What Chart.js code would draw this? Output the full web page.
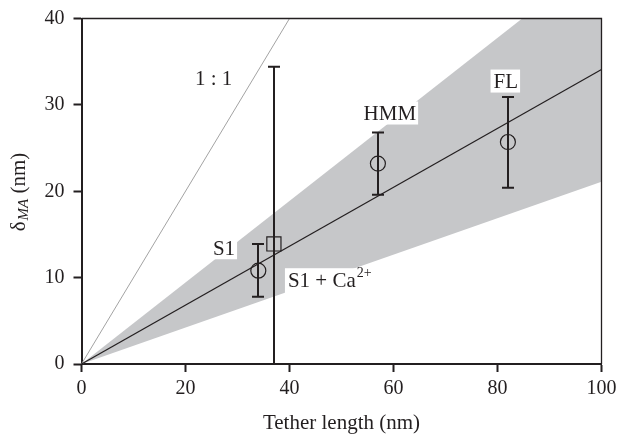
<!DOCTYPE html>
<html>
<head>
<meta charset="utf-8">
<script src="https://cdn.jsdelivr.net/npm/chart.js@4"></script>
<style>
  html, body { margin: 0; padding: 0; background: #fff; overflow: hidden; }
  #wrap { width: 617px; height: 436px; position: relative; }
  #plot { display: block; }
</style>
</head>
<body>
<div id="wrap"><canvas id="plot" width="617" height="436"></canvas></div>
<script>
// DATA: points mesures (longueur d'attache vs delta MA)
var noms = ['S1', 'S1 + Ca2+', 'HMM', 'FL'];
var longueur = [34, 37, 57, 82];
var delta = [10.8, 13.9, 23.2, 25.7];
var erreurBas = [7.8, 0, 19.6, 20.4];
var erreurHaut = [13.9, 34.4, 26.8, 30.9];
var formes = ['circle', 'rect', 'circle', 'circle'];

// droites : bande grise, ajustement, 1:1
var bandeX = [0, 100];
var bandeHaut = [0, 47.2];
var bandeBas = [0, 21.1];
var ajustX = [0, 100];
var ajustY = [0, 34.1];
var unX = [0, 40];
var unY = [0, 40];

var ticksX = [0, 20, 40, 60, 80, 100];
var ticksY = [0, 10, 20, 30, 40];

var encre = '#231f20';
var serif = '"Liberation Serif", "DejaVu Serif", serif';

function pts(xs, ys) {
  return xs.map(function (v, i) { return { x: v, y: ys[i] }; });
}

// pas de marge auto autour des axes (sinon chartArea rétrécit)
function sansMarge(s) {
  s.paddingLeft = 0; s.paddingRight = 0; s.paddingTop = 0; s.paddingBottom = 0;
}

// etiquettes avec fond blanc + barres d'erreur + cadre
var annotations = {
  id: 'annotations',
  afterDatasetsDraw: function (chart) {
    var ctx = chart.ctx;
    var x = chart.scales.x, y = chart.scales.y, a = chart.chartArea;
    ctx.save();
    ctx.fillStyle = encre;
    ctx.textBaseline = 'middle';

    function etiquette(txt, dx, dy, align, sup) {
      ctx.font = '21px ' + serif;
      var w = ctx.measureText(txt).width;
      var ws = 0;
      if (sup) { ctx.font = '14px ' + serif; ws = ctx.measureText(sup).width + 1; ctx.font = '21px ' + serif; }
      var px = x.getPixelForValue(dx), py = y.getPixelForValue(dy);
      var left = align === 'left' ? px : px - (w + ws) / 2;
      ctx.fillStyle = '#fff';
      ctx.fillRect(left - 3, py - 12, w + ws + 5, sup ? 26 : 23);
      ctx.fillStyle = encre;
      ctx.textAlign = 'left';
      ctx.fillText(txt, left, py + 1);
      if (sup) {
        ctx.font = '14px ' + serif;
        ctx.fillText(sup, left + w + 1, py - 7);
      }
    }

    ctx.font = '21px ' + serif;
    ctx.textAlign = 'center';
    ctx.fillText('1 : 1', x.getPixelForValue(25.4), y.getPixelForValue(32.9));

    etiquette('S1', 27.4, 13.4, 'center');
    etiquette('S1 + Ca', 39.7, 9.7, 'left', '2+');
    etiquette('HMM', 59.3, 29.0, 'center');
    etiquette('FL', 81.6, 32.7, 'center');

    // barres d'erreur
    ctx.strokeStyle = encre;
    ctx.lineWidth = 2;
    ctx.beginPath();
    for (var i = 0; i < longueur.length; i++) {
      var px = Math.round(x.getPixelForValue(longueur[i]));
      var y1 = y.getPixelForValue(erreurHaut[i]);
      var y0 = y.getPixelForValue(erreurBas[i]);
      ctx.moveTo(px, y0); ctx.lineTo(px, y1);
      ctx.moveTo(px - 6, y1); ctx.lineTo(px + 6, y1);
      if (erreurBas[i] > 0) { ctx.moveTo(px - 6, y0); ctx.lineTo(px + 6, y0); }
    }
    ctx.stroke();

    // cadre haut et droite
    ctx.lineWidth = 1.3;
    ctx.beginPath();
    ctx.moveTo(a.left, a.top); ctx.lineTo(a.right, a.top); ctx.lineTo(a.right, a.bottom);
    ctx.stroke();

    // titres des axes
    ctx.font = '21px ' + serif;
    ctx.textAlign = 'center';
    ctx.textBaseline = 'middle';
    ctx.fillText('Tether length (nm)', (a.left + a.right) / 2, 423);

    ctx.translate(18, 192);
    ctx.rotate(-Math.PI / 2);
    var t1 = 'δ', t2 = 'MA', t3 = ' (nm)';
    ctx.font = '21px ' + serif; var w1 = ctx.measureText(t1).width; var w3 = ctx.measureText(t3).width;
    ctx.font = 'italic 15px ' + serif; var w2 = ctx.measureText(t2).width;
    var start = -(w1 + w2 + w3 + 1) / 2;
    ctx.textAlign = 'left';
    ctx.textBaseline = 'alphabetic';
    ctx.font = '21px ' + serif;
    ctx.fillText(t1, start, 7);
    ctx.font = 'italic 15px ' + serif;
    ctx.fillText(t2, start + w1 + 1, 10);
    ctx.font = '21px ' + serif;
    ctx.fillText(t3, start + w1 + w2 + 1, 7);
    ctx.restore();
  }
};

var ctx = document.getElementById('plot').getContext('2d');
var graphe = new Chart(ctx, {
  type: 'line',
  data: {
    datasets: [{
      label: 'bande haut',
      data: pts(bandeX, bandeHaut),
      borderWidth: 0,
      pointRadius: 0,
      backgroundColor: '#c6c7c9',
      fill: '+1',
      order: 5
    }, {
      label: 'bande bas',
      data: pts(bandeX, bandeBas),
      borderWidth: 0,
      pointRadius: 0,
      fill: false,
      order: 5
    }, {
      label: '1:1',
      data: pts(unX, unY),
      borderColor: '#a3a3a3',
      borderWidth: 1,
      pointRadius: 0,
      fill: false,
      order: 3
    }, {
      label: 'ajustement',
      data: pts(ajustX, ajustY),
      borderColor: encre,
      borderWidth: 1.2,
      pointRadius: 0,
      fill: false,
      order: 2
    }, {
      label: 'mesures',
      data: pts(longueur, delta),
      showLine: false,
      pointStyle: formes,
      pointRadius: [7.5, 10, 7.5, 7.5],
      borderColor: encre,
      borderWidth: 1.2,
      backgroundColor: 'rgba(0,0,0,0)',
      order: 1
    }]
  },
  options: {
    responsive: false,
    animation: false,
    layout: { autoPadding: false, padding: { top: 18.5, right: 15.5, left: 0, bottom: 0 } },
    plugins: {
      legend: { display: false },
      tooltip: { enabled: false }
    },
    scales: {
      x: {
        type: 'linear',
        min: 0,
        max: 100,
        afterBuildTicks: function (s) { s.ticks = ticksX.map(function (v) { return { value: v }; }); },
        afterFit: function (s) { s.height = 72; sansMarge(s); },
        ticks: { font: { family: serif, size: 20 }, color: encre, padding: 5, maxRotation: 0 },
        grid: { drawOnChartArea: false, tickLength: 8, tickWidth: 2, tickColor: encre },
        border: { color: encre, width: 2 }
      },
      y: {
        min: 0,
        max: 40,
        afterBuildTicks: function (s) { s.ticks = ticksY.map(function (v) { return { value: v }; }); },
        afterFit: function (s) { s.width = 81.5; sansMarge(s); },
        ticks: { font: { family: serif, size: 20 }, color: encre, padding: 9 },
        grid: { drawOnChartArea: false, tickLength: 8, tickWidth: 2, tickColor: encre },
        border: { color: encre, width: 2 }
      }
    }
  },
  plugins: [annotations]
});
</script>
</body>
</html>
